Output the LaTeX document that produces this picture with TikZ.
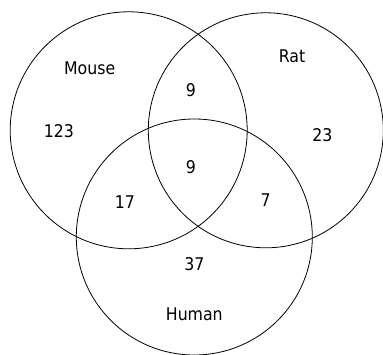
\documentclass[tikz,border=0pt]{standalone}
\usepackage{fontspec}
\setmainfont{DejaVu Sans Condensed}
\begin{document}
\begin{tikzpicture}[x=1pt,y=1pt,
  setcircle/.style={draw=black,line width=0.8pt,circle,inner sep=0pt,minimum size=#1},
  lbl/.style={inner sep=0pt,font=\fontsize{17.5}{20}\selectfont}]
\useasboundingbox (0,0) rectangle (383,354);
% three sets
\node[setcircle=237pt] (mouse) at (128.7,223.7) {};
\node[setcircle=235pt] (rat)   at (265.8,223.7) {};
\node[setcircle=236pt] (human) at (194.3,117.0) {};
% set names
\node[lbl] (tmouse) at (89.7,285.3) {Mouse};
\node[lbl] (trat)   at (292.0,297.3) {Rat};
\node[lbl] (thuman) at (194.3,40.0) {Human};
% region counts
\node[lbl] (nm)   at (59.0,223.3)  {123};
\node[lbl] (nr)   at (322.3,219.0) {23};
\node[lbl] (nh)   at (194.3,90.0)  {37};
\node[lbl] (nmr)  at (190.8,264.3) {9};
\node[lbl] (nmh)  at (125.0,152.3) {17};
\node[lbl] (nrh)  at (265.7,154.3) {7};
\node[lbl] (nall) at (190.8,187.0) {9};
\end{tikzpicture}
\end{document}
